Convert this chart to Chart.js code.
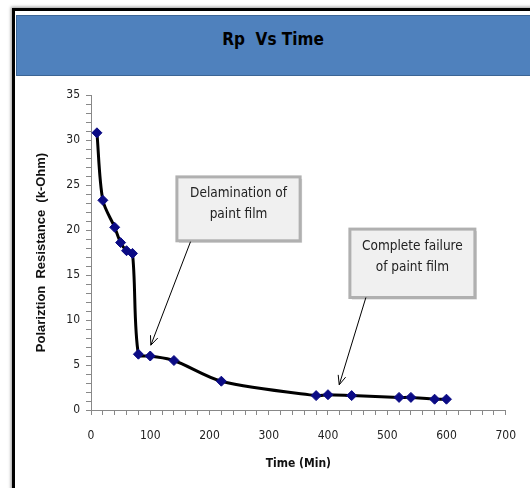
<!DOCTYPE html>
<html>
<head>
<meta charset="utf-8">
<script src="https://cdn.jsdelivr.net/npm/chart.js@4.4.1/dist/chart.umd.min.js"></script>
<style>
  body { margin: 0; background: #fff; width: 530px; height: 488px; overflow: hidden; position: relative; }
  #frame { position: absolute; left: 12px; top: 8px; width: 600px; height: 600px; border: 3px solid #000;
           box-shadow: -1px -1px 3px #999; }
  #banner { position: absolute; left: 16px; top: 15px; width: 530px; height: 61px; background: #4f81bd;
            border: 1px solid #3c6595; font: bold 17px 'DejaVu Sans Condensed', sans-serif;
            color: #000; text-align: center; line-height: 46px; box-sizing: border-box; padding-right: 16px; }
  #wrap { position: absolute; left: 0; top: 0; width: 530px; height: 488px; }
</style>
</head>
<body>
<div id="frame"></div>
<div id="banner">Rp&nbsp; Vs Time</div>
<div id="wrap"><canvas id="myChart" width="530" height="488"></canvas></div>
<script>
// time in minutes and polarization resistance (k-Ohm)
const times = [10, 20, 40, 50, 60, 70, 80, 100, 140, 220, 380, 400, 440, 520, 540, 580, 600];
const rp = [30.8, 23.3, 20.3, 18.6, 17.7, 17.4, 6.2, 6.0, 5.5, 3.2, 1.6, 1.7, 1.6, 1.4, 1.4, 1.2, 1.2];

// callout boxes: [x1, y1, x2, y2] in data units, text lines, arrow from -> to
const noteText = [['Delamination of', 'paint film'], ['Complete failure', 'of paint film']];
const noteBox = [[145, 25.9, 353, 18.8], [437, 20.1, 648, 12.5]];
const noteArrow = [[168, 18.7, 101, 7.2], [464, 12.5, 419, 2.8]];

const narrow = "'DejaVu Sans Condensed', sans-serif";

const callouts = {
  id: 'callouts',
  afterDatasetsDraw(chart) {
    const ctx = chart.ctx;
    const xs = chart.scales.x, ys = chart.scales.y;
    ctx.save();
    noteBox.forEach((b, i) => {
      const x1 = xs.getPixelForValue(b[0]), y1 = ys.getPixelForValue(b[1]);
      const x2 = xs.getPixelForValue(b[2]), y2 = ys.getPixelForValue(b[3]);
      // shadow
      ctx.fillStyle = 'rgba(0,0,0,0.18)';
      ctx.fillRect(x1 + 2, y1 + 2, x2 - x1, y2 - y1);
      ctx.fillStyle = '#f0f0f0';
      ctx.fillRect(x1, y1, x2 - x1, y2 - y1);
      ctx.strokeStyle = '#b0b0b0';
      ctx.lineWidth = 3;
      ctx.strokeRect(x1, y1, x2 - x1, y2 - y1);
      ctx.fillStyle = '#222';
      ctx.font = '13.5px ' + narrow;
      ctx.textAlign = 'center';
      ctx.textBaseline = 'middle';
      const cx = (x1 + x2) / 2;
      ctx.fillText(noteText[i][0], cx, y1 + 17);
      ctx.fillText(noteText[i][1], cx, y1 + 38);

      const a = noteArrow[i];
      const ax = xs.getPixelForValue(a[0]), ay = ys.getPixelForValue(a[1]);
      const bx = xs.getPixelForValue(a[2]), by = ys.getPixelForValue(a[3]);
      ctx.strokeStyle = '#000';
      ctx.lineWidth = 1;
      ctx.beginPath();
      ctx.moveTo(ax, ay);
      ctx.lineTo(bx, by);
      const ang = Math.atan2(by - ay, bx - ax);
      ctx.moveTo(bx - 10 * Math.cos(ang - 0.4), by - 10 * Math.sin(ang - 0.4));
      ctx.lineTo(bx, by);
      ctx.lineTo(bx - 10 * Math.cos(ang + 0.4), by - 10 * Math.sin(ang + 0.4));
      ctx.stroke();
    });
    ctx.restore();
  }
};

const ctx = document.getElementById('myChart').getContext('2d');
new Chart(ctx, {
  type: 'scatter',
  data: {
    datasets: [{
      data: times.map((t, i) => ({ x: t, y: rp[i] })),
      showLine: true,
      borderColor: '#000',
      borderWidth: 3,
      tension: 0.3,
      pointStyle: 'rectRot',
      pointRadius: 5,
      pointBackgroundColor: '#0b0b85',
      pointBorderColor: '#0b0b85',
      pointBorderWidth: 1
    }]
  },
  options: {
    responsive: false,
    animation: false,
    layout: { padding: { top: 95, right: 19, left: 0, bottom: 0 } },
    plugins: { legend: { display: false }, tooltip: { enabled: false } },
    scales: {
      x: {
        type: 'linear',
        min: 0, max: 700,
        afterFit(scale) { scale.height = 78; },
        ticks: {
          stepSize: 20, autoSkip: false, maxRotation: 0, padding: 14,
          color: '#222', font: { family: narrow, size: 12 },
          callback: v => (v % 100 === 0 ? v : '')
        },
        grid: { drawOnChartArea: false, tickLength: 5, color: '#888' },
        border: { color: '#888' },
        title: { display: true, text: 'Time (Min)', color: '#111', padding: { bottom: 17 },
                 font: { family: narrow, size: 12, weight: 'bold' } }
      },
      y: {
        min: 0, max: 35,
        afterFit(scale) { scale.width = 91; },
        ticks: {
          stepSize: 1, autoSkip: false, padding: 6,
          color: '#222', font: { family: narrow, size: 12 },
          callback: v => (v % 5 === 0 ? v : '')
        },
        grid: { drawOnChartArea: false, tickLength: 5, color: '#888' },
        border: { color: '#888' },
        title: { display: true, text: 'Polariztion  Resistance  (k-Ohm)', color: '#111', padding: { top: 34 },
                 font: { family: "'Liberation Sans', Arial, sans-serif", size: 13, weight: 'bold' } }
      }
    }
  },
  plugins: [callouts]
});
</script>
</body>
</html>
